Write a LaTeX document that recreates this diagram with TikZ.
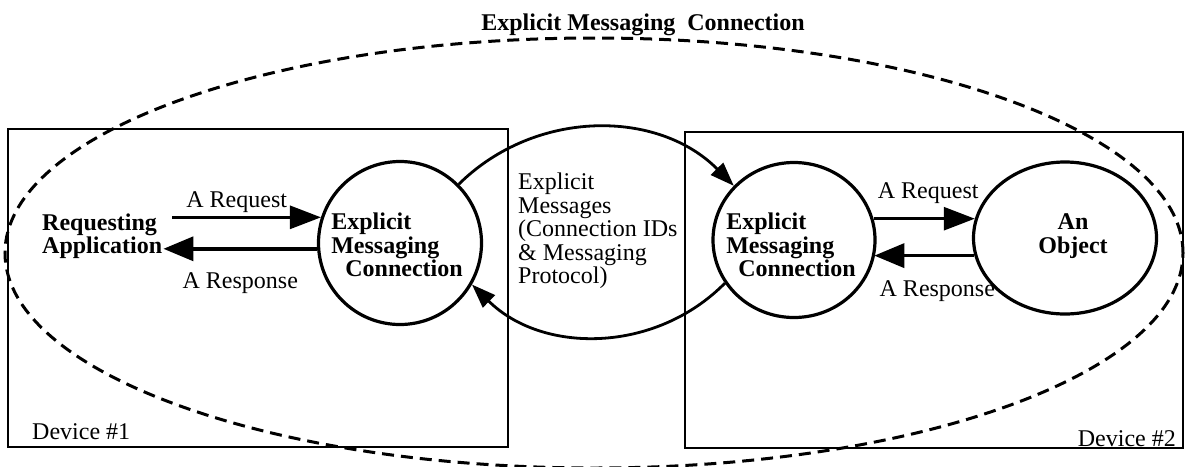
\documentclass[tikz,border=0pt]{standalone}
\usepackage{fontspec}
\setmainfont{Liberation Serif}
\usepackage{tikz}
\usetikzlibrary{arrows.meta}
\usetikzlibrary{shapes.geometric,positioning}

\begin{document}
\begin{tikzpicture}[x=1pt, y=-1pt,
	every node/.style={font=\fontsize{24}{23.5}\selectfont, inner sep=0pt},
	bold/.style={font=\fontsize{24}{23.5}\selectfont\bfseries},
	conn/.style={draw, line width=3.2pt, inner sep=0pt},
	req/.style={line width=2.8pt, -{Triangle[length=31pt,width=23pt]}},
	resp/.style={line width=3.6pt, -{Triangle[length=30pt,width=24pt]}},
	msg/.style={line width=2.8pt, -{Triangle[length=24pt,width=17pt]}}]
\useasboundingbox (0,0) rectangle (1185,466);

% devices
\draw[line width=2.4pt] (8,129) rectangle (508,447);
\draw[line width=2.4pt] (685,132) rectangle (1183,448);
\node[anchor=base west] (dev1) at (32,439) {Device \#1};
\node[anchor=base east] (dev2) at (1176,446) {Device \#2};

\draw[line width=3pt, dash pattern=on 12pt off 7pt] (594,253) ellipse [x radius=589pt, y radius=215pt];
\node[bold] (title) at (643,25) {Explicit Messaging\ \ Connection};

\node[conn, circle, minimum size=163pt] (lemc) at (400,243) {};
\node[conn, ellipse, minimum width=162pt, minimum height=155pt] (remc) at (794,240) {};
\node[conn, ellipse, minimum width=183pt, minimum height=152pt] (obj) at (1065,238) {};

\node[bold, align=left, anchor=west] (ra) at (42,236) {Requesting\\Application};
\node[bold, align=left] (lemc-txt) at (397,245) {Explicit\\Messaging\\\hspace*{14pt}Connection};
\node[bold, align=left] (remc-txt) at (791,245) {Explicit\\Messaging\\\hspace*{12pt}Connection};
\node[bold, align=center] (obj-txt) at (1073,236) {An\\Object};
\node[align=left, anchor=west] (msg-txt) at (518,231) {Explicit\\Messages\\(Connection IDs\\\& Messaging\\Protocol)};

\path
([xshift=10pt]ra.east |- lemc.162) edge[req] node[above=3pt, xshift=-10pt] (lreq) {A Request} (lemc.162)
(lemc.184) edge[resp] node[below=22pt] (lresp) {A Response} ([xshift=1pt]ra.east |- lemc.184)
(remc.15) edge[req] node[above=14pt, xshift=4pt] (rreq) {A Request} (obj.168 |- remc.15)
(obj.191) edge[resp] node[below=23pt, xshift=13pt] (rresp) {A Response} (remc.347 |- obj.191)
(lemc.45) edge[msg, bend left=45] (remc.138)
(remc.212) edge[msg, bend left=45] (lemc.330);
\end{tikzpicture}
\end{document}
